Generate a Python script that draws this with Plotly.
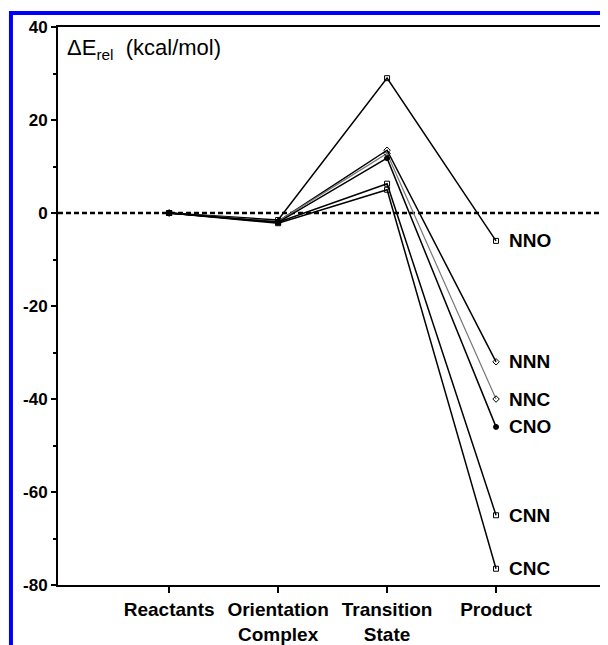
import plotly.graph_objects as go

stages = ["Reactants", "Orientation<br>Complex", "Transition<br>State", "Product"]
series_names = ["NNO", "NNN", "NNC", "CNO", "CNN", "CNC"]
NNO = [0, -1.5, 29, -6]
NNN = [0, -1.8, 13.5, -32]
NNC = [0, -1.8, 12.8, -40]
CNO = [0, -2.0, 11.8, -46]
CNN = [0, -2.0, 6.3, -65]
CNC = [0, -2.2, 5.0, -76.5]
series_values = [NNO, NNN, NNC, CNO, CNN, CNC]
y_tick_vals = [-80, -60, -40, -20, 0, 20, 40]

FONT = "Liberation Sans, Arial"
styles = {
    "NNO": dict(color="black", width=1.5, symbol="square-open"),
    "NNN": dict(color="black", width=1.5, symbol="diamond-open"),
    "NNC": dict(color="#777777", width=1.2, symbol="diamond-open"),
    "CNO": dict(color="black", width=1.5, symbol="circle"),
    "CNN": dict(color="black", width=1.5, symbol="square-open"),
    "CNC": dict(color="black", width=1.5, symbol="square-open"),
}

xpos = list(range(len(stages)))
fig = go.Figure()
for name, vals in zip(series_names, series_values):
    s = styles[name]
    fig.add_trace(go.Scatter(
        x=xpos, y=vals, mode="lines+markers", name=name,
        line=dict(color=s["color"], width=s["width"]),
        marker=dict(symbol=s["symbol"], size=5, color="black",
                    line=dict(color="black", width=1)),
        showlegend=False,
    ))
    fig.add_annotation(x=xpos[-1], y=vals[-1], text="<b>%s</b>" % name,
                       showarrow=False, xanchor="left", yanchor="middle",
                       xshift=11, font=dict(family=FONT, size=19, color="black"))

fig.add_shape(type="line", xref="paper", x0=0, x1=1, yref="y", y0=0, y1=0,
              line=dict(color="black", width=2.5, dash="5px,3px"), layer="below")

fig.add_annotation(xref="paper", yref="paper", x=0.012, y=0.99, xanchor="left", yanchor="top",
                   text="ΔE<sub>rel</sub>  (kcal/mol)", showarrow=False,
                   font=dict(family=FONT, size=22, color="black"))

# blue frame
fig.add_shape(type="rect", xref="paper", yref="paper",
              x0=-0.086, x1=1.1, y0=-0.2, y1=1.025,
              line=dict(color="#0000ff", width=4), fillcolor="rgba(0,0,0,0)")

fig.update_xaxes(
    range=[-1.02, 4.0], tickvals=xpos, ticktext=["<b>%s</b>" % s for s in stages],
    ticks="outside", ticklen=6, tickwidth=1.5, tickcolor="black",
    showline=True, linecolor="black", linewidth=2, mirror=True,
    showgrid=False, zeroline=False, automargin=False,
    tickfont=dict(family=FONT, size=19, color="black"),
)
fig.update_yaxes(
    range=[-80, 40], tickvals=y_tick_vals, ticktext=["<b>%d</b>" % v for v in y_tick_vals],
    ticks="outside", ticklen=5, tickwidth=1.5, tickcolor="black",
    minor=dict(dtick=10, ticks="outside", ticklen=3, tickcolor="black"),
    showline=True, linecolor="black", linewidth=2, mirror=True,
    showgrid=False, zeroline=False, automargin=False,
    tickfont=dict(family=FONT, size=17, color="black"),
)
fig.update_layout(
    width=600, height=637,
    margin=dict(l=50, r=3, t=19, b=60, autoexpand=False),
    paper_bgcolor="white", plot_bgcolor="white",
)
fig.write_html("out.html")
